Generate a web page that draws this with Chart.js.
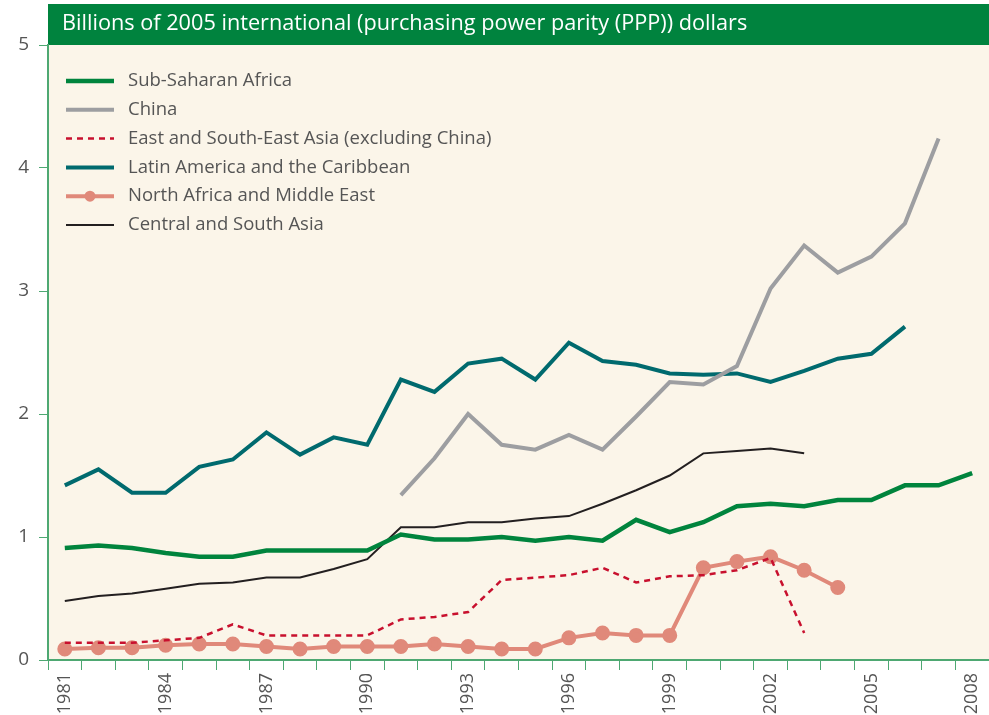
<!DOCTYPE html>
<html>
<head>
<meta charset="utf-8">
<script src="https://cdn.jsdelivr.net/npm/chart.js@4/dist/chart.umd.min.js"></script>
<style>
  body { margin: 0; background: #ffffff; }
  #chart { display: block; }
</style>
</head>
<body>
<canvas id="chart" width="989" height="715"></canvas>
<script>
const years = [];
for (let y = 1981; y <= 2008; y++) years.push(String(y));

const subSaharanAfrica = [0.91, 0.93, 0.91, 0.87, 0.84, 0.84, 0.89, 0.89, 0.89, 0.89,
  1.02, 0.98, 0.98, 1.00, 0.97, 1.00, 0.97, 1.14, 1.04, 1.12,
  1.25, 1.27, 1.25, 1.30, 1.30, 1.42, 1.42, 1.52];
const china = [null, null, null, null, null, null, null, null, null, null,
  1.34, 1.64, 2.00, 1.75, 1.71, 1.83, 1.71, 1.98, 2.26, 2.24,
  2.39, 3.02, 3.37, 3.15, 3.28, 3.55, 4.24, null];
const eastSouthEastAsia = [0.14, 0.14, 0.14, 0.16, 0.18, 0.29, 0.20, 0.20, 0.20, 0.20,
  0.33, 0.35, 0.39, 0.65, 0.67, 0.69, 0.75, 0.63, 0.68, 0.69,
  0.73, 0.83, 0.22, null, null, null, null, null];
const latinAmerica = [1.42, 1.55, 1.36, 1.36, 1.57, 1.63, 1.85, 1.67, 1.81, 1.75,
  2.28, 2.18, 2.41, 2.45, 2.28, 2.58, 2.43, 2.40, 2.33, 2.32,
  2.33, 2.26, 2.35, 2.45, 2.49, 2.71, null, null];
const northAfricaMiddleEast = [0.09, 0.10, 0.10, 0.12, 0.13, 0.13, 0.11, 0.09, 0.11, 0.11,
  0.11, 0.13, 0.11, 0.09, 0.09, 0.18, 0.22, 0.20, 0.20, 0.75,
  0.80, 0.84, 0.73, 0.59, null, null, null, null];
const centralSouthAsia = [0.48, 0.52, 0.54, 0.58, 0.62, 0.63, 0.67, 0.67, 0.74, 0.82,
  1.08, 1.08, 1.12, 1.12, 1.15, 1.17, 1.27, 1.38, 1.50, 1.68,
  1.70, 1.72, 1.68, null, null, null, null, null];

const yTicks = [0, 1, 2, 3, 4, 5];
const title = "Billions of 2005 international (purchasing power parity (PPP)) dollars";

const FONT = "'Open Sans', 'Noto Sans', sans-serif";
const axisGreen = "#4ea872";
const textGrey = "#555555";

// background of the plot area, header band and the legend box
const decor = {
  id: "decor",
  beforeDraw(chart) {
    const { ctx, chartArea: a } = chart;
    ctx.save();
    ctx.fillStyle = "#fbf5e9";
    ctx.fillRect(a.left, a.top, a.right - a.left, a.bottom - a.top);
    ctx.fillStyle = "#00833e";
    ctx.fillRect(a.left, 4, a.right - a.left, a.top - 4);
    ctx.fillStyle = "#ffffff";
    ctx.font = "21.7px " + FONT;
    ctx.textBaseline = "middle";
    ctx.fillText(title, a.left + 14, 24);
    ctx.restore();
  },
  afterDraw(chart) {
    const { ctx } = chart;
    ctx.save();
    ctx.font = "18.5px " + FONT;
    ctx.textBaseline = "middle";
    chart.data.datasets.forEach((ds, i) => {
      const y = 81 + i * 28.8;
      ctx.strokeStyle = ds.borderColor;
      ctx.lineWidth = ds.borderWidth;
      ctx.setLineDash(ds.borderDash || []);
      ctx.beginPath();
      ctx.moveTo(66, y);
      ctx.lineTo(114, y);
      ctx.stroke();
      ctx.setLineDash([]);
      if (ds.pointRadius) {
        ctx.fillStyle = ds.borderColor;
        ctx.beginPath();
        ctx.arc(90, y, ds.pointRadius, 0, Math.PI * 2);
        ctx.fill();
      }
      ctx.fillStyle = textGrey;
      ctx.fillText(ds.label, 128, y);
    });
    ctx.restore();
  }
};

const line = (label, data, color, width, extra) => Object.assign({
  label, data,
  borderColor: color,
  backgroundColor: color,
  borderWidth: width,
  pointRadius: 0,
  pointHoverRadius: 0,
  tension: 0,
  spanGaps: false,
  borderJoinStyle: "miter",
}, extra || {});

new Chart(document.getElementById("chart"), {
  type: "line",
  data: {
    labels: years,
    datasets: [
      line("Sub-Saharan Africa", subSaharanAfrica, "#00843d", 4.5),
      line("China", china, "#9d9ea1", 4),
      line("East and South-East Asia (excluding China)", eastSouthEastAsia, "#c8102e", 2.5, { borderDash: [6, 5] }),
      line("Latin America and the Caribbean", latinAmerica, "#006a6e", 4),
      line("North Africa and Middle East", northAfricaMiddleEast, "#e0897a", 4, { pointRadius: 5.5 }),
      line("Central and South Asia", centralSouthAsia, "#231f20", 2),
    ],
  },
  options: {
    responsive: false,
    devicePixelRatio: 1,
    animation: false,
    layout: { autoPadding: false, padding: { top: 45, right: 0, left: 0, bottom: 0 } },
    plugins: {
      legend: { display: false },
      tooltip: { enabled: false },
    },
    scales: {
      x: {
        offset: true,
        afterFit(scale) {
          scale.height = 55;
          scale.paddingLeft = 0;
          scale.paddingRight = 0;
        },
        grid: {
          offset: true,
          drawOnChartArea: false,
          drawTicks: true,
          tickLength: 10,
          color: axisGreen,
        },
        border: { color: axisGreen, width: 2 },
        ticks: {
          autoSkip: false,
          maxRotation: 90,
          minRotation: 90,
          padding: 3,
          color: textGrey,
          font: { family: FONT, size: 18 },
          callback(value, index) {
            return index % 3 === 0 ? years[index] : "";
          },
        },
      },
      y: {
        min: 0,
        max: 5,
        afterFit(scale) {
          scale.width = 48;
          scale.paddingTop = 0;
          scale.paddingBottom = 0;
        },
        afterBuildTicks(scale) {
          scale.ticks = yTicks.map(v => ({ value: v }));
        },
        grid: {
          drawOnChartArea: false,
          drawTicks: true,
          tickLength: 9,
          color: axisGreen,
        },
        border: { color: axisGreen, width: 2 },
        ticks: {
          padding: 10,
          color: textGrey,
          font: { family: FONT, size: 19 },
        },
      },
    },
  },
  plugins: [decor],
});
</script>
</body>
</html>
